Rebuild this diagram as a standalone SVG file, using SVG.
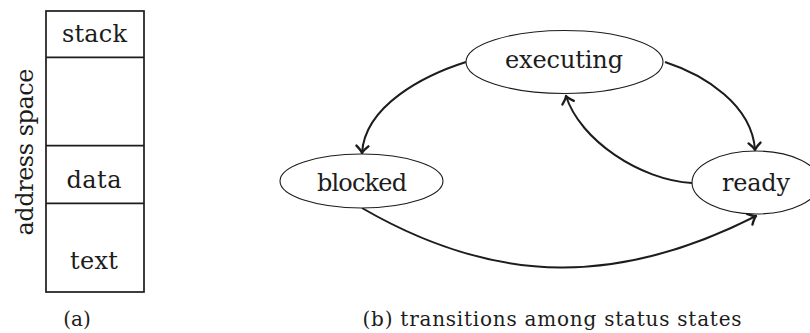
<svg xmlns="http://www.w3.org/2000/svg" width="810" height="333" viewBox="0 0 810 333">
<style>
text{font-family:"DejaVu Serif",serif;fill:#1c1c1c;text-anchor:middle}
.lbl{font-size:24px}
.cap{font-size:20px}
.box{fill:none;stroke:#1c1c1c;stroke-width:1.7}
.node{fill:#fff;stroke:#1c1c1c;stroke-width:1.1}
.edge{fill:none;stroke:#1c1c1c;stroke-width:2;marker-end:url(#arr)}
</style>
<defs>
<marker id="arr" markerUnits="userSpaceOnUse" markerWidth="16" markerHeight="16" viewBox="-8 -8 16 16" refX="0" refY="0" orient="auto" overflow="visible">
<path d="M-7,-6 Q-2.5,-1 0,0 Q-2.5,1 -7,6" fill="none" stroke="#1c1c1c" stroke-width="2.4" stroke-linecap="round" stroke-linejoin="round"/>
</marker>
</defs>
<g id="address-space">
<rect class="box" x="46" y="11" width="98" height="281"/>
<line class="box" x1="46" y1="57.3" x2="144" y2="57.3"/>
<line class="box" x1="46" y1="145.7" x2="144" y2="145.7"/>
<line class="box" x1="46" y1="203.3" x2="144" y2="203.3"/>
<text class="lbl" x="94.5" y="42" textLength="65" lengthAdjust="spacing">stack</text>
<text class="lbl" x="94" y="188" textLength="55" lengthAdjust="spacing">data</text>
<text class="lbl" x="94" y="269" textLength="48" lengthAdjust="spacing">text</text>
<text class="lbl" transform="translate(33,152) rotate(-90)" x="0" y="0" textLength="167" lengthAdjust="spacing">address space</text>
<text class="cap" x="77" y="326">(a)</text>
</g>
<g id="connectors">
<path class="edge" d="M466,62 C425,75 365,105 362,153"/>
<path class="edge" d="M665,62 C705,75 752,105 755,150"/>
<path class="edge" d="M692,183 C640,180 580,140 566,96"/>
<path class="edge" d="M362,208 C500,288 622,284 756,216"/>
</g>
<g id="executing">
<ellipse class="node" cx="564.5" cy="62" rx="98.5" ry="31.5"/>
<text class="lbl" x="564" y="68" textLength="118" lengthAdjust="spacing">executing</text>
</g>
<g id="blocked">
<ellipse class="node" cx="361.5" cy="181" rx="81.5" ry="27"/>
<text class="lbl" x="362" y="191" textLength="90" lengthAdjust="spacing">blocked</text>
</g>
<g id="ready">
<ellipse class="node" cx="756" cy="182.5" rx="64" ry="31.5"/>
<text class="lbl" x="756" y="191" textLength="68" lengthAdjust="spacing">ready</text>
</g>
<text class="cap" x="552" y="326" textLength="379" lengthAdjust="spacing">(b) transitions among status states</text>
</svg>
